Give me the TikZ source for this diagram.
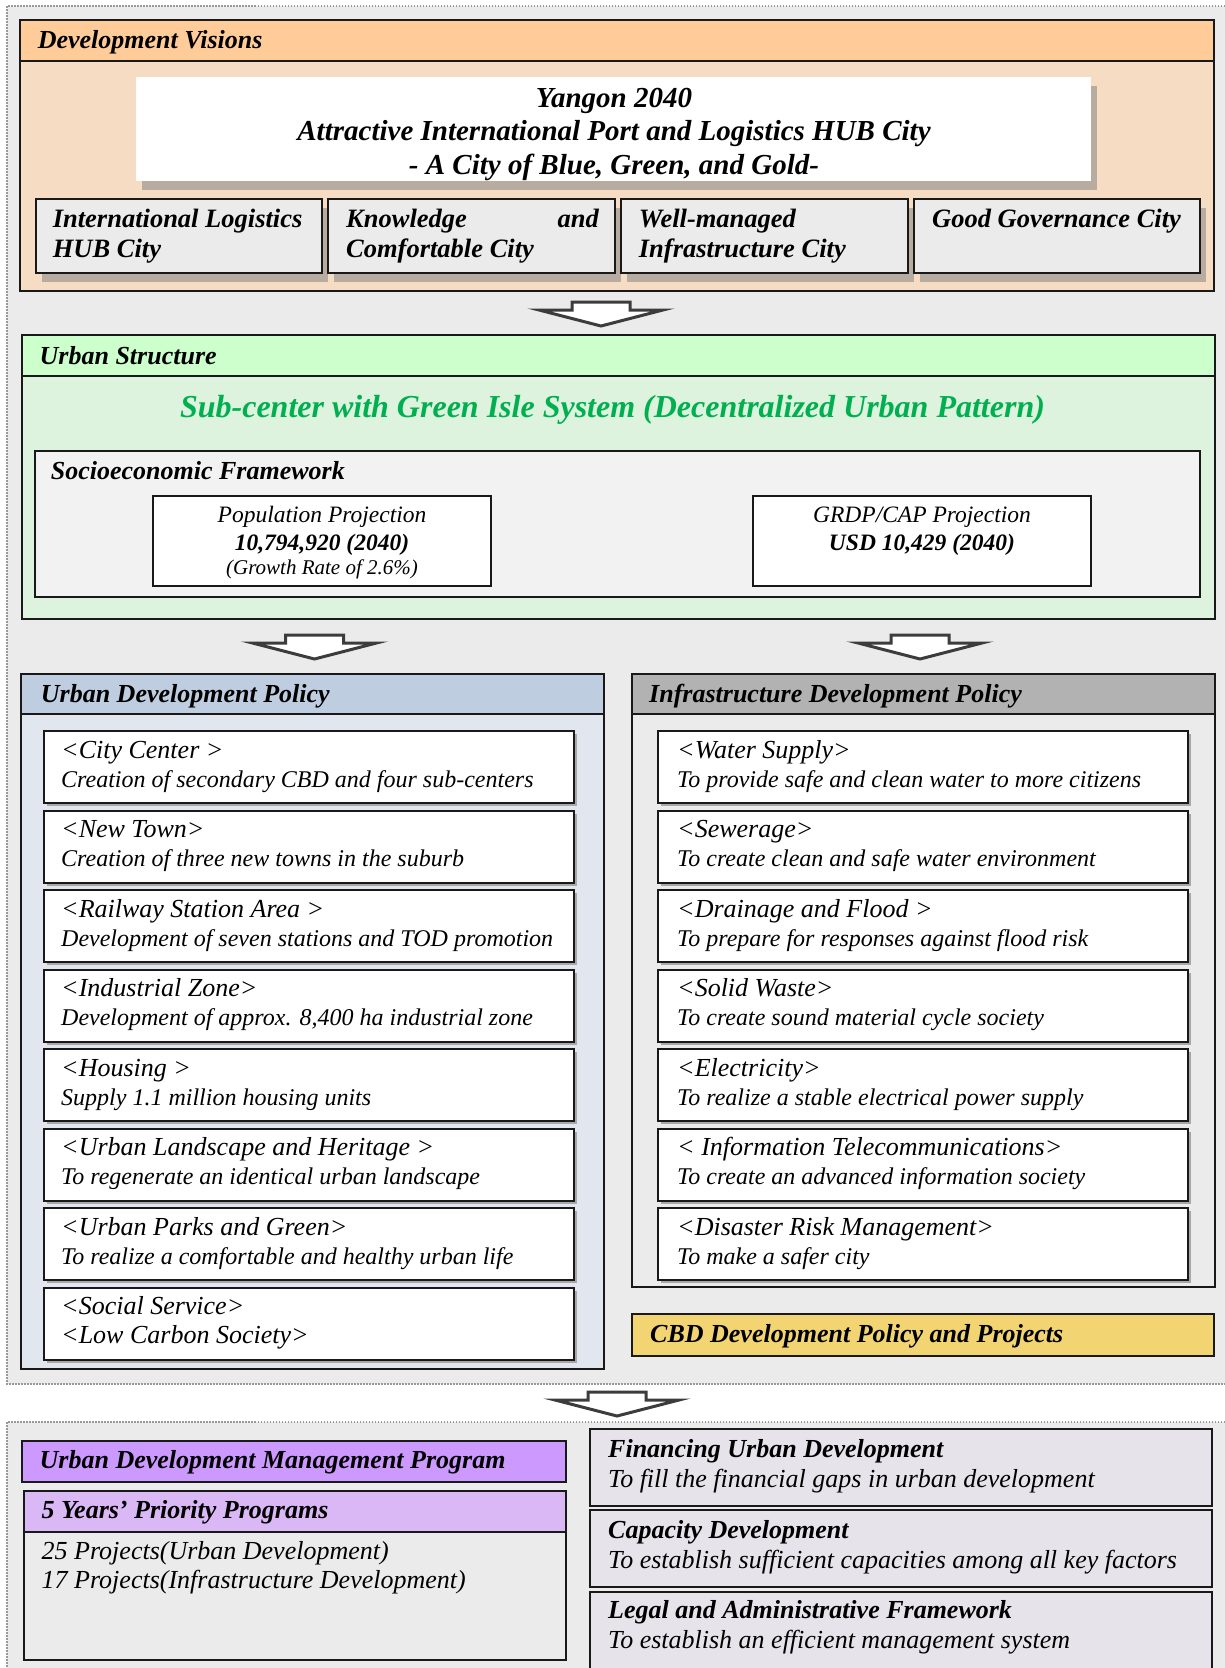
\documentclass[tikz,border=0pt]{standalone}
\usepackage{fontspec}
\setmainfont{Liberation Serif}
\usetikzlibrary{fit}
\definecolor{bgray}{HTML}{EBEBEB}
\definecolor{dvhead}{HTML}{FFCC99}
\definecolor{dvbody}{HTML}{F5DCC3}
\definecolor{shadowc}{HTML}{B8ABA0}
\definecolor{ushead}{HTML}{CCFFCC}
\definecolor{usbody}{HTML}{DDF3DD}
\definecolor{sociof}{HTML}{F2F2F2}
\definecolor{udphead}{HTML}{BFCDE0}
\definecolor{udpbody}{HTML}{E1E6EF}
\definecolor{idphead}{HTML}{B2B2B2}
\definecolor{cbdf}{HTML}{F2D572}
\definecolor{udmpf}{HTML}{CC99FF}
\definecolor{fyhead}{HTML}{D9B8F5}
\definecolor{lavbox}{HTML}{E6E3EA}
\definecolor{greentxt}{HTML}{00B050}
\definecolor{arrowc}{HTML}{3C3C3C}
\definecolor{subshad}{HTML}{A8A8A8}
\newcommand\fsz[2]{\fontsize{#1}{#2}\selectfont}
\newcommand\blockarr[2]{\draw[barrow] (#1-29,#2) -- (#1+29,#2) -- (#1+29,#2+8) -- (#1+62,#2+8) -- (#1,#2+24) -- (#1-62,#2+8) -- (#1-29,#2+8) -- cycle;}
\begin{document}
\begin{tikzpicture}[x=1pt,y=-1pt,
  boxline/.style={draw=black!90, line width=2pt, inner sep=0pt, outer sep=0pt},
  sbox/.style={boxline, fill=white},
  hd/.style={anchor=base west, inner sep=0pt, font=\fsz{26}{31}\bfseries\itshape},
  vtx/.style={anchor=base west, inner sep=0pt, font=\fsz{26.5}{31}\bfseries\itshape},
  ttl/.style={anchor=base west, inner sep=0pt, font=\fsz{26}{31}\itshape},
  dsc/.style={anchor=base west, inner sep=0pt, font=\fsz{24}{29}\itshape},
  barrow/.style={fill=white, draw=arrowc, line width=3pt, line join=miter},
  dotline/.style={draw=gray!80, line width=1.5pt, dash pattern=on 1.5pt off 1.5pt},
]
\useasboundingbox (0,0) rectangle (1225,1668);
\fill[white] (0,0) rectangle (1225,1668);
% regions
\fill[bgray] (7,6) rectangle (1240,1384);
\draw[dotline] (1225,6) -- (7,6) -- (7,1384) -- (1225,1384);
\fill[bgray] (7,1422) rectangle (1240,1680);
\draw[dotline] (1225,1422) -- (7,1422) -- (7,1668);

% ---------------- Development Visions
\node[boxline, fill=dvhead, fit={(20,20)(1214,61)}] (dvh) {};
\node[boxline, fill=dvbody, fit={(20,61)(1214,291)}] (dvb) {};
\node[hd] (dvt) at (37.6,48) {Development Visions};
\fill[shadowc] (142,86) rectangle (1097,190);
\node[fill=white, inner sep=0pt, fit={(136,77)(1091,181)}] (vis) {};
\node[anchor=base, inner sep=0pt, font=\fsz{29}{33}\bfseries\itshape] (vis1) at (614,107) {Yangon 2040};
\node[anchor=base, inner sep=0pt, font=\fsz{29}{33}\bfseries\itshape] (vis2) at (614,140) {Attractive International Port and Logistics HUB City};
\node[anchor=base, inner sep=0pt, font=\fsz{29}{33}\bfseries\itshape] (vis3) at (614,174) {- A City of Blue, Green, and Gold-};
% four vision boxes
\fill[shadowc] (41.6,208) rectangle (328,282);
\fill[shadowc] (334,208) rectangle (621,282);
\fill[shadowc] (627,208) rectangle (914,282);
\fill[shadowc] (920,208) rectangle (1206,282);
\node[boxline, fill=bgray, fit={(35.6,199)(322,273)}] (v1) {};
\node[boxline, fill=bgray, fit={(328,199)(615,273)}] (v2) {};
\node[boxline, fill=bgray, fit={(621,199)(908,273)}] (v3) {};
\node[boxline, fill=bgray, fit={(914,199)(1200,273)}] (v4) {};
\node[vtx] (v1a) at (52.6,227) {International Logistics};
\node[vtx] (v1b) at (52.6,257) {HUB City};
\node[vtx] (v2a) at (346,227) {Knowledge};
\node[vtx, anchor=base east] (v2c) at (599,227) {and};
\node[vtx] (v2b) at (346,257) {Comfortable City};
\node[vtx] (v3a) at (638.7,227) {Well-managed};
\node[vtx] (v3b) at (638.7,257) {Infrastructure City};
\node[vtx] (v4a) at (932,227) {Good Governance City};

\blockarr{601}{302}

% ---------------- Urban Structure
\node[boxline, fill=ushead, fit={(22,335)(1215,376)}] (ush) {};
\node[boxline, fill=usbody, fit={(22,376)(1215,619)}] (usb) {};
\node[hd] (ust) at (39.5,364) {Urban Structure};
\node[anchor=base, inner sep=0pt, font=\fsz{32}{36}\bfseries\itshape, text=greentxt] (green) at (612.5,417) {Sub-center with Green Isle System (Decentralized Urban Pattern)};
\node[boxline, fill=sociof, fit={(35,451)(1200,597)}] (soc) {};
\node[hd] (soct) at (50.6,479) {Socioeconomic Framework};
\node[sbox, fit={(153,496)(491,586)}] (pop) {};
\node[anchor=base, inner sep=0pt, font=\fsz{23.5}{28}\itshape] (pop1) at (322,522) {Population Projection};
\node[anchor=base, inner sep=0pt, font=\fsz{23.5}{28}\bfseries\itshape] (pop2) at (322,550) {10,794,920 (2040)};
\node[anchor=base, inner sep=0pt, font=\fsz{21}{25}\itshape] (pop3) at (322,574) {(Growth Rate of 2.6\%)};
\node[sbox, fit={(753,496)(1091,586)}] (grdp) {};
\node[anchor=base, inner sep=0pt, font=\fsz{23.5}{28}\itshape] (grdp1) at (922,522) {GRDP/CAP Projection};
\node[anchor=base, inner sep=0pt, font=\fsz{23.5}{28}\bfseries\itshape] (grdp2) at (922,550) {USD 10,429 (2040)};

\blockarr{314.5}{635}
\blockarr{920}{635}

% ---------------- Urban Development Policy
\node[boxline, fill=udphead, fit={(21,674)(604,714)}] (udh) {};
\node[boxline, fill=udpbody, fit={(21,714)(604,1369)}] (udb) {};
\node[hd] (udt) at (40.7,702) {Urban Development Policy};
\foreach \ta/\da [count=\i from 0] in {
  {<City Center >}/{Creation of secondary CBD and four sub-centers},
  {<New Town>}/{Creation of three new towns in the suburb},
  {<Railway Station Area >}/{Development of seven stations and TOD promotion},
  {<Industrial Zone>}/{Development of approx. 8,400 ha industrial zone},
  {<Housing >}/{Supply 1.1 million housing units},
  {<Urban Landscape and Heritage >}/{To regenerate an identical urban landscape},
  {<Urban Parks and Green>}/{To realize a comfortable and healthy urban life},
  {<Social Service>}/{\fsz{26}{31}<Low Carbon Society>}}{
  \pgfmathsetmacro\yt{731+79.5*\i}
  \fill[subshad] (46.5,\yt+3) rectangle (577,\yt+75);
  \node[sbox, fit={(43.5,\yt)(574,\yt+72)}] (ud\i) {};
  \node[ttl] (udta\i) at (61,\yt+27) {\ta};
  \node[dsc] (udda\i) at (61,\yt+56) {\da};
}

% ---------------- Infrastructure Development Policy
\node[boxline, fill=idphead, fit={(632,674)(1215,714)}] (idh) {};
\node[boxline, fill=bgray, fit={(632,714)(1215,1287)}] (idb) {};
\node[hd] (idt) at (649,702) {Infrastructure Development Policy};
\foreach \ta/\da [count=\i from 0] in {
  {<Water Supply>}/{To provide safe and clean water to more citizens},
  {<Sewerage>}/{To create clean and safe water environment},
  {<Drainage and Flood >}/{To prepare for responses against flood risk},
  {<Solid Waste>}/{To create sound material cycle society},
  {<Electricity>}/{To realize a stable electrical power supply},
  {< Information Telecommunications>}/{To create an advanced information society},
  {<Disaster Risk Management>}/{To make a safer city}}{
  \pgfmathsetmacro\yt{731+79.5*\i}
  \fill[subshad] (661,\yt+3) rectangle (1191,\yt+75);
  \node[sbox, fit={(658,\yt)(1188,\yt+72)}] (id\i) {};
  \node[ttl] (idta\i) at (677,\yt+27) {\ta};
  \node[dsc] (idda\i) at (677,\yt+56) {\da};
}

% CBD
\node[boxline, fill=cbdf, fit={(632,1314)(1214,1356)}] (cbd) {};
\node[hd] (cbdt) at (650,1342) {CBD Development Policy and Projects};

\blockarr{617}{1392}

% ---------------- lower part
\node[boxline, fill=udmpf, fit={(22,1441)(566,1482)}] (udmp) {};
\node[hd] (udmpt) at (39.5,1468) {Urban Development Management Program};
\node[boxline, fill=fyhead, fit={(24,1491)(566,1532)}] (fyh) {};
\node[boxline, fill=bgray, fit={(24,1532)(566,1660)}] (fyb) {};
\node[hd] (fyt) at (41.5,1518) {5 Years’ Priority Programs};
\node[ttl] (fy1) at (41.5,1559) {25 Projects(Urban Development)};
\node[ttl] (fy2) at (41.5,1588) {17 Projects(Infrastructure Development)};

\node[boxline, fill=lavbox, fit={(590,1429)(1212,1506)}] (fin) {};
\node[hd] (fint) at (608,1457) {Financing Urban Development};
\node[ttl] (find) at (608,1487) {To fill the financial gaps in urban development};
\node[boxline, fill=lavbox, fit={(590,1510)(1212,1587)}] (cap) {};
\node[hd] (capt) at (608,1538) {Capacity Development};
\node[ttl] (capd) at (608,1568) {To establish sufficient capacities among all key factors};
\node[boxline, fill=lavbox, fit={(590,1592)(1212,1680)}] (leg) {};
\node[hd] (legt) at (608,1618) {Legal and Administrative Framework};
\node[ttl] (legd) at (608,1648) {To establish an efficient management system};
\end{tikzpicture}
\end{document}
